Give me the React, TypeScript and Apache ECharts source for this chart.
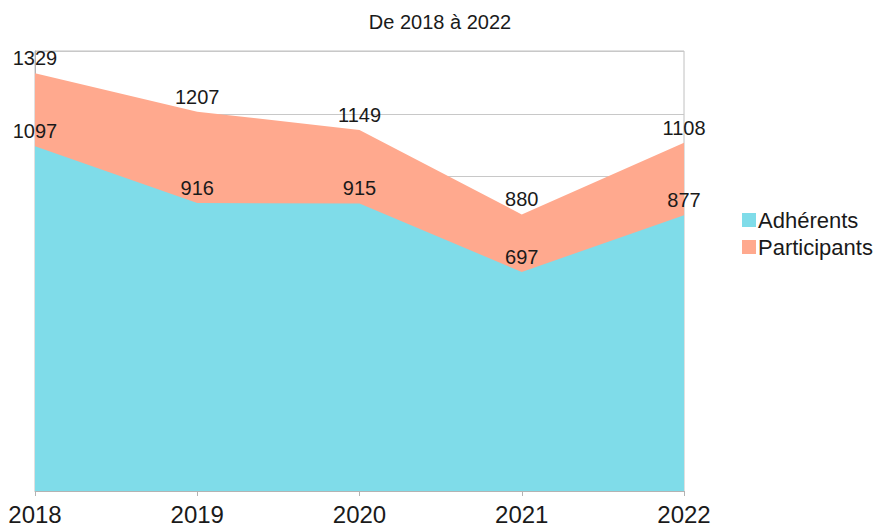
import React, { useEffect, useRef } from "react";
import * as echarts from "echarts";

const years = ["2018", "2019", "2020", "2021", "2022"];
const adherents = [1097, 916, 915, 697, 877];
const participants = [1329, 1207, 1149, 880, 1108];
const titleText = "De 2018 à 2022";

const FONT = "'Liberation Sans', Arial, sans-serif";

export default function App() {
  const ref = useRef<HTMLDivElement>(null);
  useEffect(() => {
    if (!ref.current) return;
    const chart = echarts.init(ref.current, undefined, { renderer: "svg" });
    const labelStyle = {
      show: true,
      position: "top" as const,
      distance: 5,
      fontSize: 20,
      color: "#1a1a1a",
      fontFamily: FONT,
    };
    chart.setOption({
      animation: false,
      backgroundColor: "#ffffff",
      title: {
        text: titleText,
        left: 435,
        top: 7,
        textAlign: "center",
        textStyle: { fontSize: 20, fontWeight: "normal", color: "#1a1a1a", fontFamily: FONT },
      },
      legend: {
        data: ["Adhérents", "Participants"],
        orient: "vertical",
        left: 737,
        top: 204,
        itemWidth: 14,
        itemHeight: 14,
        itemGap: 5,
        icon: "rect",
        textStyle: { fontSize: 22, lineHeight: 22, color: "#1a1a1a", fontFamily: FONT, padding: [0, 0, 0, -3] },
      },
      grid: {
        left: 35,
        right: 192,
        top: 51,
        bottom: 33,
        show: true,
        borderColor: "#c0c0c0",
        borderWidth: 1,
        containLabel: false,
      },
      xAxis: {
        type: "category",
        data: years,
        boundaryGap: false,
        axisLine: { show: true, lineStyle: { color: "#b3b3b3" } },
        axisTick: { show: true, length: 5, lineStyle: { color: "#b3b3b3" } },
        axisLabel: { fontSize: 24, color: "#1a1a1a", fontFamily: FONT, margin: 11 },
        splitLine: { show: false },
      },
      yAxis: {
        type: "value",
        min: 0,
        max: 1400,
        interval: 200,
        axisLine: { show: true, lineStyle: { color: "#b3b3b3" } },
        axisTick: { show: false },
        axisLabel: { show: false },
        splitLine: { show: true, lineStyle: { color: "#c8c8c8", width: 1 } },
      },
      series: [
        {
          name: "Participants",
          type: "line",
          data: participants,
          showSymbol: true,
          symbol: "circle",
          symbolSize: 0,
          lineStyle: { width: 0 },
          areaStyle: { color: "#ffa98e", opacity: 1 },
          itemStyle: { color: "#ffa98e" },
          label: labelStyle,
          z: 2,
        },
        {
          name: "Adhérents",
          type: "line",
          data: adherents,
          showSymbol: true,
          symbol: "circle",
          symbolSize: 0,
          lineStyle: { width: 0 },
          areaStyle: { color: "#7fdce9", opacity: 1 },
          itemStyle: { color: "#7fdce9" },
          label: labelStyle,
          z: 3,
        },
      ],
    });
    return () => chart.dispose();
  }, []);
  return <div ref={ref} style={{ width: 876, height: 526, position: "absolute", left: 0, top: 0 }} />;
}
